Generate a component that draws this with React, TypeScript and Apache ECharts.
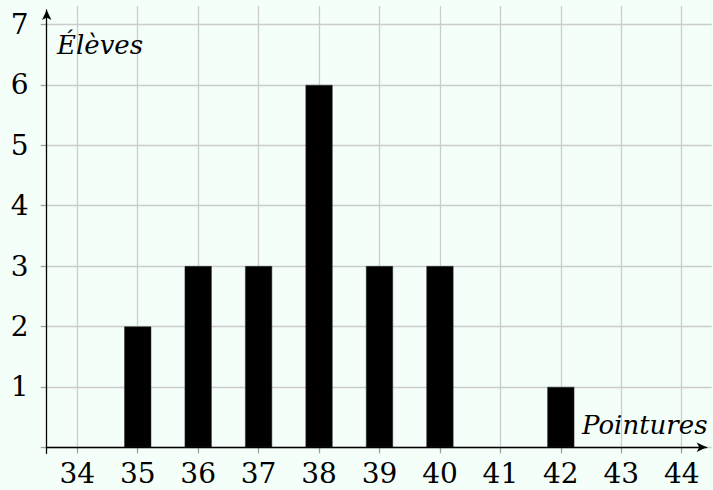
import React, { useEffect, useRef } from "react";
import * as echarts from "echarts";

const pointures = [35, 36, 37, 38, 39, 40, 42];
const eleves = [2, 3, 3, 6, 3, 3, 1];
const xTickMin = 34;
const xTickMax = 44;
const yTickMax = 7;
const xName = "Pointures";
const yName = "Élèves";

const FONT = "DejaVu Serif";
const BG = "#f5fffa";

export default function App() {
  const ref = useRef<HTMLDivElement>(null);
  useEffect(() => {
    if (!ref.current) return;
    const chart = echarts.init(ref.current, undefined, { renderer: "svg" });
    const data = pointures.map((p, i) => [p, eleves[i]]);
    const labelStyle = { color: "#000", fontFamily: FONT, fontSize: 28 };
    const gridColor = "#cccccc";
    chart.setOption({
      animation: false,
      backgroundColor: BG,
      grid: [
        { left: 46.7, right: 6.3, top: 10, bottom: 36.7 },
        { left: 77.3, right: 31.3, top: 6, bottom: 42.7 },
        { left: 46.7, right: 1.3, top: 24.5, bottom: 42.7 },
      ],
      xAxis: [
        {
          gridIndex: 0,
          type: "value",
          min: 33.5,
          max: 44.42,
          z: 5,
          axisLine: {
            show: true,
            onZero: true,
            symbol: ["none", "arrow"],
            symbolSize: [7, 10],
            lineStyle: { color: "#000", width: 1.3 },
          },
          axisTick: { show: false },
          axisLabel: { show: false },
          splitLine: { show: false },
        },
        {
          gridIndex: 1,
          type: "value",
          min: xTickMin,
          max: xTickMax,
          interval: 1,
          z: 1,
          axisLine: { show: false },
          axisTick: { show: true, length: 6, lineStyle: { color: "#a0a0a0", width: 1.3 } },
          axisLabel: { ...labelStyle, margin: 12 },
          splitLine: { show: true, lineStyle: { color: gridColor, width: 1.3 } },
        },
        {
          gridIndex: 2,
          type: "value",
          min: 33.5,
          max: 44.5,
          show: false,
        },
      ],
      yAxis: [
        {
          gridIndex: 0,
          type: "value",
          min: -0.1,
          max: 7.24,
          z: 5,
          axisLine: {
            show: true,
            onZero: false,
            symbol: ["none", "arrow"],
            symbolSize: [7, 10],
            lineStyle: { color: "#000", width: 1.3 },
          },
          axisTick: { show: false },
          axisLabel: { show: false },
          splitLine: { show: false },
        },
        {
          gridIndex: 1,
          type: "value",
          min: 0,
          max: 7.306,
          show: false,
        },
        {
          gridIndex: 2,
          type: "value",
          min: 0,
          max: yTickMax,
          interval: 1,
          z: 1,
          axisLine: { show: false },
          axisTick: { show: true, length: 6, lineStyle: { color: "#a0a0a0", width: 1.3 } },
          axisLabel: {
            ...labelStyle,
            margin: 18,
            formatter: (v: number) => (v === 0 ? "" : String(v)),
          },
          splitLine: { show: true, lineStyle: { color: gridColor, width: 1.3 } },
        },
      ],
      series: [
        {
          type: "bar",
          xAxisIndex: 1,
          yAxisIndex: 1,
          data,
          barWidth: 27,
          z: 3,
          itemStyle: { color: "#000", borderColor: "#333", borderWidth: 0.5 },
        },
      ],
      graphic: [
        {
          type: "text",
          left: 57,
          top: 32,
          z: 10,
          style: {
            text: yName,
            fill: "#000",
            fontFamily: FONT,
            fontStyle: "italic",
            fontSize: 26,
          },
        },
        {
          type: "text",
          left: 582,
          top: 412,
          z: 10,
          style: {
            text: xName,
            fill: "#000",
            fontFamily: FONT,
            fontStyle: "italic",
            fontSize: 26,
          },
        },
      ],
    });
    return () => chart.dispose();
  }, []);
  return (
    <div
      ref={ref}
      style={{ position: "fixed", left: 0, top: 0, width: 713, height: 490, background: BG }}
    />
  );
}
